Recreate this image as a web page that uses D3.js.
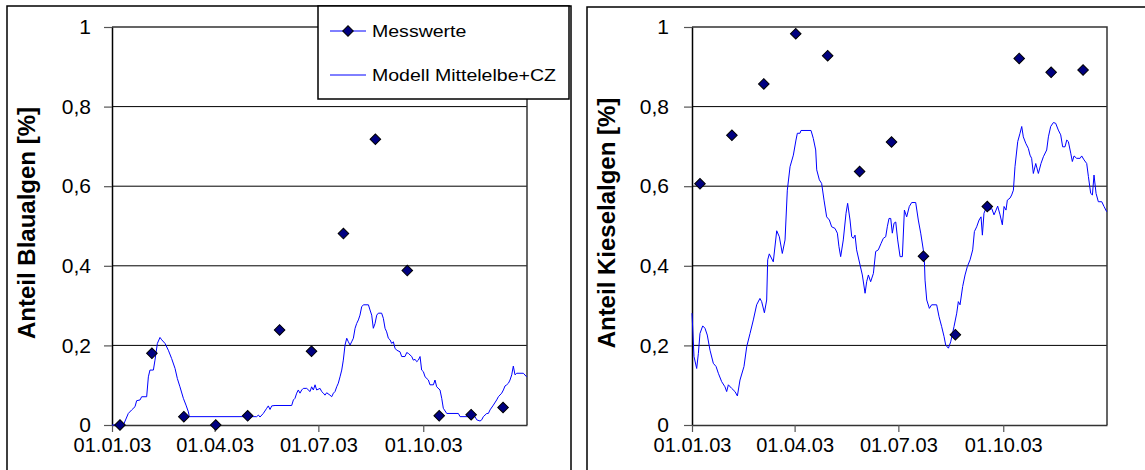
<!DOCTYPE html>
<html>
<head>
<meta charset="utf-8">
<script src="https://cdn.jsdelivr.net/npm/d3@7"></script>
<style>
  body { margin: 0; background: #fff; }
  svg { display: block; }
  text { font-family: "Liberation Sans", Arial, sans-serif; fill: #000; }
</style>
</head>
<body>
<svg id="chart" width="1145" height="470"></svg>
<script>
// Sampling dates of the field measurements (every four weeks)
const sampleDates = ["2003-01-08", "2003-02-05", "2003-03-05", "2003-04-02", "2003-04-30",
  "2003-05-28", "2003-06-25", "2003-07-23", "2003-08-20", "2003-09-17",
  "2003-10-15", "2003-11-12", "2003-12-10"];

// Measured shares (fraction) of cyanobacteria and diatoms
const blauMeasured = [0, 0.18, 0.021, 0, 0.023, 0.239, 0.185, 0.481, 0.718, 0.388, 0.023, 0.026, 0.044];
const kieselMeasured = [0.606, 0.728, 0.857, 0.983, 0.928, 0.637, 0.711, 0.424, 0.227, 0.549, 0.921, 0.886, 0.892];

// Model "Mittelelbe+CZ": [day since 01.01.2003, share]
const blauModel = [[0,0],[10,0],[14.3,0.029],[17.3,0.038],[20.2,0.046],[21.6,0.061],[24.6,0.063],[26,0.071],
  [30.4,0.071],[31.9,0.121],[33.3,0.138],[36.3,0.138],[37.7,0.163],[39.8,0.205],[42.1,0.220],[43.6,0.214],
  [46.5,0.205],[49.4,0.188],[52.3,0.167],[55.3,0.142],[57.3,0.117],[59.6,0.096],[62.6,0.067],[64.9,0.050],
  [67,0.033],[67.8,0.021],[126.9,0.021],[128.4,0.025],[129.8,0.020],[132.7,0.029],[135.7,0.042],[137.1,0.048],
  [138.6,0.039],[140.1,0.048],[143,0.049],[157.6,0.049],[159.1,0.063],[160.5,0.067],[162,0.080],[163.4,0.088],
  [164.9,0.080],[166.4,0.088],[167.8,0.092],[170.8,0.092],[173.7,0.084],[175.1,0.096],[176.6,0.088],[178.1,0.101],
  [179.5,0.088],[182.5,0.092],[183.9,0.084],[185.4,0.080],[186.8,0.075],[188.3,0.081],[191.2,0.075],[192.7,0.071],
  [194.2,0.080],[195.6,0.084],[197.1,0.096],[198.5,0.105],[200,0.121],[201.5,0.138],[202.9,0.163],[204.4,0.201],
  [205.9,0.218],[207.3,0.209],[208.8,0.201],[210.2,0.209],[211.7,0.218],[213.2,0.243],[214.6,0.255],[216.1,0.264],
  [217.5,0.276],[219,0.297],[220.5,0.302],[224.9,0.302],[226.3,0.289],[227.8,0.276],[229.2,0.243],[230.7,0.255],
  [232.2,0.276],[233.6,0.281],[236.5,0.281],[238,0.268],[239.5,0.243],[240.9,0.234],[242.4,0.218],[243.9,0.214],
  [245.3,0.205],[246.8,0.209],[248.2,0.193],[249.7,0.188],[252.6,0.184],[254.1,0.172],[257,0.172],[258.5,0.182],
  [259.9,0.180],[262.9,0.172],[264.3,0.163],[265.8,0.165],[267.3,0.159],[268.7,0.163],[270.2,0.172],[271.6,0.138],
  [273.1,0.134],[274.6,0.121],[277.5,0.113],[278.9,0.101],[281.9,0.101],[283.3,0.113],[284.8,0.096],[287.7,0.088],
  [289.2,0.067],[290.6,0.042],[293.6,0.029],[303.8,0.029],[305.3,0.021],[318.4,0.021],[319.9,0.013],[322.8,0.010],
  [324.3,0.013],[325.7,0.021],[328.7,0.029],[330.1,0.029],[331.6,0.038],[334.5,0.050],[337.4,0.063],[338.9,0.071],
  [341.8,0.080],[343.3,0.088],[344.7,0.098],[346.2,0.101],[347.7,0.105],[349.1,0.113],[350.6,0.126],[352,0.148],
  [353.5,0.126],[355,0.130],[360.8,0.130],[363.7,0.121]];

const kieselModel = [[0,0.281],[1.75,0.172],[4.1,0.142],[5.6,0.180],[7,0.230],[9.4,0.249],[11.4,0.243],[13.4,0.226],
  [15.8,0.188],[18.7,0.155],[21.1,0.147],[23.1,0.130],[26,0.109],[28.9,0.096],[30.4,0.084],[31.9,0.101],
  [34.8,0.092],[37.7,0.084],[39.8,0.073],[42.1,0.113],[45.6,0.147],[48,0.197],[50.9,0.230],[53.8,0.264],
  [56.7,0.302],[59.6,0.318],[61.1,0.310],[63.5,0.282],[65.5,0.314],[66.4,0.415],[67.8,0.430],[71.3,0.410],
  [74.3,0.488],[76.6,0.473],[79.2,0.431],[81.6,0.465],[83.6,0.590],[86,0.649],[88.9,0.678],[91.2,0.716],
  [92.4,0.733],[94.7,0.733],[95.6,0.740],[104.4,0.740],[106.4,0.720],[108.5,0.691],[109.4,0.641],[111.7,0.616],
  [113.7,0.607],[115.8,0.565],[118.1,0.523],[120.5,0.515],[122.5,0.498],[125.4,0.494],[127.5,0.482],[128.9,0.448],
  [130.4,0.423],[132.7,0.465],[135.1,0.532],[136.5,0.557],[138.6,0.515],[140.1,0.473],[141.5,0.469],[143,0.477],
  [144.4,0.440],[147.4,0.402],[149.4,0.377],[151.8,0.331],[153.2,0.360],[154.7,0.377],[156.7,0.360],[159.1,0.381],
  [161.1,0.436],[163.4,0.440],[165.8,0.456],[167.8,0.469],[169.9,0.473],[171.3,0.498],[172.8,0.519],[174.3,0.519],
  [175.7,0.482],[177.2,0.507],[178.7,0.510],[180.4,0.465],[182.5,0.423],[184.5,0.423],[186.3,0.540],[188.3,0.523],
  [190.6,0.549],[192.7,0.559],[196.2,0.559],[198.5,0.515],[200.6,0.482],[202.9,0.440],[203.8,0.415],[204.4,0.364],
  [205.9,0.314],[208.2,0.293],[210.2,0.302],[214.6,0.302],[216.7,0.272],[219,0.247],[221.1,0.222],[222.5,0.201],
  [224.9,0.193],[226.9,0.209],[229.8,0.247],[232.2,0.281],[233.6,0.310],[235.1,0.302],[237.4,0.348],[239.5,0.377],
  [241.5,0.398],[243.9,0.415],[246.2,0.440],[247.7,0.486],[249.7,0.498],[251.8,0.515],[253.5,0.523],[254.7,0.477],
  [256.1,0.532],[258.5,0.549],[260.8,0.540],[262.9,0.544],[264.9,0.528],[266.7,0.540],[268.1,0.550],[270.2,0.528],
  [272.2,0.503],[273.7,0.549],[275.4,0.540],[276.6,0.565],[278.9,0.570],[280.4,0.578],[281.9,0.590],[283.3,0.649],
  [285.7,0.712],[287.7,0.733],[289.2,0.750],[290.6,0.724],[292.7,0.708],[295,0.695],[296.5,0.678],[297.9,0.670],
  [299.4,0.632],[301.5,0.657],[303.8,0.632],[306.1,0.657],[308.2,0.674],[311.1,0.691],[312.6,0.724],[314.6,0.750],
  [317,0.760],[319,0.758],[321.3,0.741],[323.4,0.729],[325.1,0.699],[327.2,0.699],[328.7,0.716],[330.1,0.712],
  [332.2,0.683],[333.6,0.662],[335.1,0.676],[337.4,0.670],[340.4,0.670],[341.8,0.676],[343.9,0.666],[346.2,0.657],
  [347.7,0.624],[349.7,0.582],[351.2,0.578],[352.6,0.628],[354.4,0.582],[356.4,0.561],[359.4,0.561],[361.4,0.549],
  [363.7,0.536]];

// Axis ticks
const yTickValues = [0, 0.2, 0.4, 0.6, 0.8, 1];
const yTickLabels = ["0", "0,2", "0,4", "0,6", "0,8", "1"];
const xTickDates = ["2003-01-01", "2003-04-01", "2003-07-01", "2003-10-01"];
const xTickLabels = ["01.01.03", "01.04.03", "01.07.03", "01.10.03"];

const seriesNames = ["Messwerte", "Modell Mittelelbe+CZ"];

const parse = d3.timeParse("%Y-%m-%d");
const yearStart = parse("2003-01-01");
const yearEnd = parse("2003-12-31");
const svg = d3.select("#chart");

const markerColor = "#000080";
const lineColor = "#0000ff";
const diamond = d3.symbol().type(d3.symbolSquare).size(56);

function drawPanel(opt) {
  const plotL = opt.plotLeft, plotR = opt.plotLeft + 415;
  const plotT = 27, plotB = 425;

  const x = d3.scaleTime().domain([yearStart, yearEnd]).range([plotL, plotR]);
  const y = d3.scaleLinear().domain([0, 1]).range([plotB, plotT]);

  const g = svg.append("g");

  // outer frame of the chart object
  g.append("rect")
    .attr("x", opt.frameX).attr("y", opt.frameY)
    .attr("width", opt.frameW).attr("height", 520)
    .attr("fill", "none").attr("stroke", "#000").attr("stroke-width", 1.5);

  // horizontal gridlines
  g.append("g").selectAll("line")
    .data(yTickValues.filter(v => v > 0 && v < 1))
    .join("line")
    .attr("x1", plotL).attr("x2", plotR)
    .attr("y1", d => y(d)).attr("y2", d => y(d))
    .attr("stroke", "#000").attr("stroke-width", 1);

  // plot area frame (top and right)
  g.append("path")
    .attr("d", `M${plotL},${y(1)}H${plotR}V${plotB}`)
    .attr("fill", "none").attr("stroke", "#333").attr("stroke-width", 1.5);

  // y axis
  const yAxis = d3.axisLeft(y)
    .tickValues(yTickValues)
    .tickFormat((d, i) => yTickLabels[i])
    .tickSize(8).tickSizeOuter(0).tickPadding(opt.yPad);
  const ya = g.append("g").attr("transform", `translate(${plotL},0)`).call(yAxis);
  ya.select(".domain").attr("stroke", "#000").attr("stroke-width", 1.5);
  ya.selectAll(".tick line").attr("stroke", "#555").attr("stroke-width", 1.2);
  ya.selectAll(".tick text").attr("font-size", 21).attr("fill", "#000")
    .attr("font-family", "'Liberation Sans', Arial, sans-serif");

  // x axis
  const xAxis = d3.axisBottom(x)
    .tickValues(xTickDates.map(parse))
    .tickFormat((d, i) => xTickLabels[i])
    .tickSize(7).tickSizeOuter(0).tickPadding(6);
  const xa = g.append("g").attr("transform", `translate(0,${plotB})`).call(xAxis);
  xa.select(".domain").attr("stroke", "#333").attr("stroke-width", 1.5);
  xa.selectAll(".tick line").attr("stroke", "#555").attr("stroke-width", 1.2);
  xa.selectAll(".tick text").attr("font-size", 20).attr("fill", "#000")
    .attr("font-family", "'Liberation Sans', Arial, sans-serif");

  // model line
  const line = d3.line()
    .x(d => x(d3.timeDay.offset(yearStart, 0).getTime() + d[0] * 864e5))
    .y(d => y(d[1]));
  g.append("path")
    .datum(opt.model)
    .attr("d", line)
    .attr("fill", "none").attr("stroke", lineColor).attr("stroke-width", 1);

  // measured values
  g.append("g").selectAll("path")
    .data(opt.measured.map((v, i) => ({ date: parse(sampleDates[i]), value: v })))
    .join("path")
    .attr("d", diamond)
    .attr("transform", d => `translate(${x(d.date)},${y(d.value)}) rotate(45)`)
    .attr("fill", markerColor).attr("stroke", "#000").attr("stroke-width", 1);

  // y axis title
  g.append("text")
    .attr("transform", `translate(${opt.titleX},223) rotate(-90)`)
    .attr("text-anchor", "middle")
    .attr("font-size", 24).attr("font-weight", "bold")
    .text(opt.title);
}

drawPanel({
  plotLeft: 112, frameX: 7, frameY: 6, frameW: 564, yPad: 13, titleX: 35,
  measured: blauMeasured, model: blauModel, title: "Anteil Blaualgen [%]"
});

drawPanel({
  plotLeft: 692, frameX: 587, frameY: 7, frameW: 600, yPad: 15, titleX: 615,
  measured: kieselMeasured, model: kieselModel, title: "Anteil Kieselalgen [%]"
});

// legend of the left chart
const legend = svg.append("g");
legend.append("rect")
  .attr("x", 318).attr("y", 6).attr("width", 251).attr("height", 93)
  .attr("fill", "#fff").attr("stroke", "#000").attr("stroke-width", 1.5);

const legendRows = [31, 75];
legend.selectAll("line.key")
  .data(legendRows)
  .join("line")
  .attr("class", "key")
  .attr("x1", 330).attr("x2", 366)
  .attr("y1", d => d).attr("y2", d => d)
  .attr("stroke", lineColor).attr("stroke-width", 1);

legend.append("path")
  .attr("d", diamond)
  .attr("transform", `translate(348,${legendRows[0]}) rotate(45)`)
  .attr("fill", markerColor).attr("stroke", "#000").attr("stroke-width", 1);

legend.selectAll("text")
  .data(seriesNames)
  .join("text")
  .attr("transform", (d, i) => `translate(372,${legendRows[i]}) scale(1.15,1)`)
  .attr("dy", "0.35em")
  .attr("font-size", 17)
  .text(d => d);
</script>
</body>
</html>
